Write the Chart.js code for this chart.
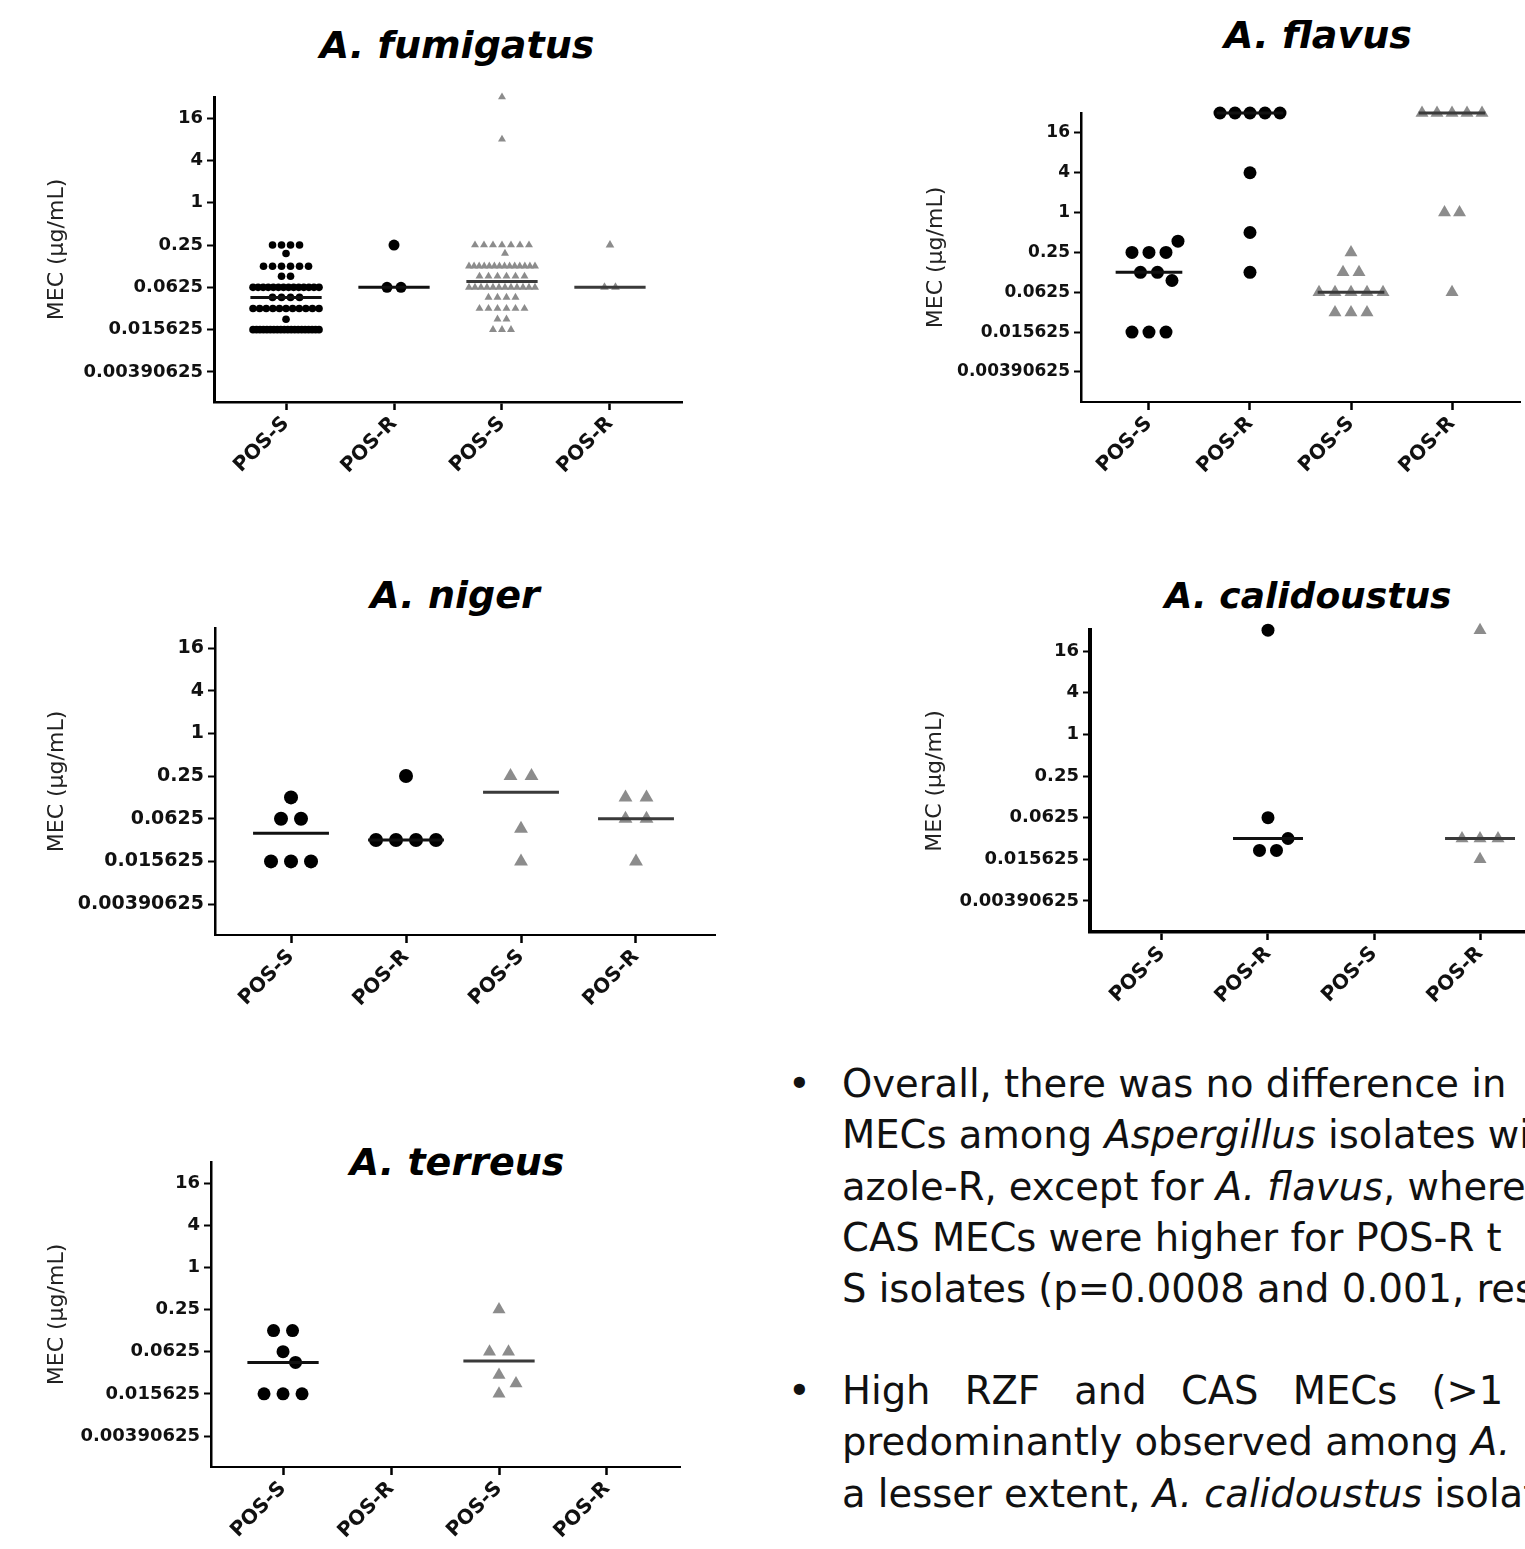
<!DOCTYPE html>
<html><head><meta charset="utf-8">
<script src="https://cdn.jsdelivr.net/npm/chart.js@4.4.1/dist/chart.umd.min.js"></script>
<style>
html,body{margin:0;padding:0;width:1525px;height:1549px;overflow:hidden;background:#fff;position:relative;}
canvas{position:absolute;}
.title{position:absolute;font-family:"DejaVu Sans";font-weight:bold;font-style:italic;transform:translate(-50%,-50%);white-space:nowrap;color:#000;}
.txt{position:absolute;left:842px;font-family:"DejaVu Sans";font-size:38.5px;line-height:51.3px;white-space:nowrap;color:#111;}
.bul{position:absolute;left:-54px;top:0;}
</style>
</head><body>
<script>
// ---------- DATA ----------
const categories = ['POS-S', 'POS-R', 'POS-S', 'POS-R'];
const yTickValues = [16, 4, 1, 0.25, 0.0625, 0.015625, 0.00390625];
const yTickLabels = ['16', '4', '1', '0.25', '0.0625', '0.015625', '0.00390625'];
const yAxisTitle = 'MEC (µg/mL)';
const panelTitles = ['A. fumigatus', 'A. flavus', 'A. niger', 'A. calidoustus', 'A. terreus'];

// A. fumigatus (black circles = RZF, grey triangles = CAS)
const fumigatusRzfPosS = [0.25,0.25,0.25,0.25, 0.19,
  0.125,0.125,0.125,0.125,0.125,0.125, 0.09,0.09,
  0.0625,0.0625,0.0625,0.0625,0.0625,0.0625,0.0625,0.0625,0.0625,0.0625,0.0625,0.0625,0.0625,0.0625,
  0.045,0.045,0.045,0.045,
  0.03125,0.03125,0.03125,0.03125,0.03125,0.03125,0.03125,0.03125,0.03125,0.03125,0.03125,
  0.022,
  0.015625,0.015625,0.015625,0.015625,0.015625,0.015625,0.015625,0.015625,0.015625,0.015625,
  0.015625,0.015625,0.015625,0.015625,0.015625,0.015625,0.015625,0.015625,0.015625,0.015625];
const fumigatusRzfPosR = [0.25, 0.0625, 0.0625];
const fumigatusCasPosS = [32, 8, 0.25,0.25,0.25,0.25,0.25,0.25,0.25, 0.19,
  0.125,0.125,0.125,0.125,0.125,0.125,0.125,0.125,0.125,0.125,0.125,0.125,0.125,0.125,
  0.09,0.09,0.09,0.09,0.09,0.09,
  0.0625,0.0625,0.0625,0.0625,0.0625,0.0625,0.0625,0.0625,0.0625,0.0625,0.0625,0.0625,
  0.045,0.045,0.045,0.045,
  0.03125,0.03125,0.03125,0.03125,0.03125,0.03125,
  0.022,0.022, 0.015625,0.015625,0.015625];
const fumigatusCasPosR = [0.25, 0.0625, 0.0625];
const fumigatusMedians = [0.045, 0.0625, 0.076, 0.0625];

// A. flavus
const flavusRzfPosS = [0.37, 0.25,0.25,0.25, 0.125,0.125, 0.094, 0.015625,0.015625,0.015625];
const flavusRzfPosR = [32,32,32,32,32, 4, 0.5, 0.125];
const flavusCasPosS = [0.25, 0.125,0.125, 0.0625,0.0625,0.0625,0.0625,0.0625, 0.031,0.031,0.031];
const flavusCasPosR = [32,32,32,32,32, 1,1, 0.0625];
const flavusMedians = [0.125, 32, 0.0625, 32];

// A. niger
const nigerRzfPosS = [0.125, 0.0625,0.0625, 0.015625,0.015625,0.015625];
const nigerRzfPosR = [0.25, 0.03125,0.03125,0.03125,0.03125];
const nigerCasPosS = [0.25,0.25, 0.045, 0.015625];
const nigerCasPosR = [0.125,0.125, 0.0625,0.0625, 0.015625];
const nigerMedians = [0.039, 0.03125, 0.148, 0.0625];

// A. calidoustus
const calidoustusRzfPosS = [];
const calidoustusRzfPosR = [32, 0.0625, 0.03125, 0.021, 0.021];
const calidoustusCasPosS = [];
const calidoustusCasPosR = [32, 0.03125,0.03125,0.03125, 0.015625];
const calidoustusMedians = [null, 0.03125, null, 0.03125];

// A. terreus
const terreusRzfPosS = [0.125,0.125, 0.0625, 0.044, 0.015625,0.015625,0.015625];
const terreusRzfPosR = [];
const terreusCasPosS = [0.25, 0.0625,0.0625, 0.029, 0.022, 0.015625];
const terreusCasPosR = [];
const terreusMedians = [0.044, null, 0.046, null];

// ---------- STYLE / LAYOUT ----------
const BLACK = '#000000', GREY = '#8c8c8c';

const panels = [
  { title: panelTitles[0], tx: 457, ty: 45, tsize: 38,
    area: [214, 97, 682, 402], xr: [-0.667, 3.667], ylog: [-9.42, 5.0], Wy: 170, tf: 18, bw: 2.5,
    maxRow: 66, sep: 0.95,
    groups: [
      { d: fumigatusRzfPosS, c: 0, m: fumigatusMedians[0], st: 'circle', col: BLACK, r: 3.8, sp: 9 },
      { d: fumigatusRzfPosR, c: 1, m: fumigatusMedians[1], st: 'circle', col: BLACK, r: 5.5, sp: 14 },
      { d: fumigatusCasPosS, c: 2, m: fumigatusMedians[2], st: 'triangle', col: GREY, r: 4.6, sp: 9 },
      { d: fumigatusCasPosR, c: 3, m: fumigatusMedians[3], st: 'triangle', col: GREY, r: 5, sp: 11 } ] },
  { title: panelTitles[1], tx: 1318, ty: 35, tsize: 38,
    area: [1081, 113, 1520, 402], xr: [-0.673, 3.673], ylog: [-9.51, 5.0], Wy: 158, tf: 17, bw: 2,
    maxRow: 100, sep: 1.25,
    groups: [
      { d: flavusRzfPosS, c: 0, m: flavusMedians[0], st: 'circle', col: BLACK, r: 6.5, sp: 17 },
      { d: flavusRzfPosR, c: 1, m: flavusMedians[1], st: 'circle', col: BLACK, r: 6.5, sp: 15 },
      { d: flavusCasPosS, c: 2, m: flavusMedians[2], st: 'triangle', col: GREY, r: 7.5, sp: 16 },
      { d: flavusCasPosR, c: 3, m: flavusMedians[3], st: 'triangle', col: GREY, r: 7.5, sp: 15 } ] },
  { title: panelTitles[2], tx: 455, ty: 595, tsize: 38,
    area: [215, 628, 715, 935], xr: [-0.661, 3.687], ylog: [-9.45, 4.94], Wy: 171, tf: 19, bw: 2,
    maxRow: 100, sep: 1.25,
    groups: [
      { d: nigerRzfPosS, c: 0, m: nigerMedians[0], st: 'circle', col: BLACK, r: 7, sp: 20 },
      { d: nigerRzfPosR, c: 1, m: nigerMedians[1], st: 'circle', col: BLACK, r: 7, sp: 20 },
      { d: nigerCasPosS, c: 2, m: nigerMedians[2], st: 'triangle', col: GREY, r: 8, sp: 21 },
      { d: nigerCasPosR, c: 3, m: nigerMedians[3], st: 'triangle', col: GREY, r: 8, sp: 21 } ] },
  { title: panelTitles[3], tx: 1308, ty: 595, tsize: 36,
    area: [1090, 630, 1552, 932], xr: [-0.679, 3.679], ylog: [-9.49, 5.01], Wy: 168, tf: 18, bw: 3.5,
    maxRow: 100, sep: 1.25,
    groups: [
      { d: calidoustusRzfPosS, c: 0, m: calidoustusMedians[0], st: 'circle', col: BLACK, r: 6.5, sp: 17 },
      { d: calidoustusRzfPosR, c: 1, m: calidoustusMedians[1], st: 'circle', col: BLACK, r: 6.5, sp: 17 },
      { d: calidoustusCasPosS, c: 2, m: calidoustusMedians[2], st: 'triangle', col: GREY, r: 7.5, sp: 18 },
      { d: calidoustusCasPosR, c: 3, m: calidoustusMedians[3], st: 'triangle', col: GREY, r: 7.5, sp: 18 } ] },
  { title: panelTitles[4], tx: 457, ty: 1162, tsize: 38,
    area: [211, 1162, 680, 1467], xr: [-0.667, 3.676], ylog: [-9.47, 5.0], Wy: 167, tf: 18, bw: 2,
    maxRow: 100, sep: 1.25,
    groups: [
      { d: terreusRzfPosS, c: 0, m: terreusMedians[0], st: 'circle', col: BLACK, r: 6.5, sp: 19 },
      { d: terreusRzfPosR, c: 1, m: terreusMedians[1], st: 'circle', col: BLACK, r: 6.5, sp: 19 },
      { d: terreusCasPosS, c: 2, m: terreusMedians[2], st: 'triangle', col: GREY, r: 7.5, sp: 19 },
      { d: terreusCasPosR, c: 3, m: terreusMedians[3], st: 'triangle', col: GREY, r: 7.5, sp: 19 } ] }
];

// beeswarm-like horizontal placement of equal values (layout only, values untouched)
function layoutGroup(g, pxPerCat, pxPerLog2, maxRow, sep) {
  const rows = [];
  [...g.d].sort((a, b) => b - a).forEach(v => {
    const r = rows.find(q => q.v === v);
    if (r) r.n++; else rows.push({ v, n: 1 });
  });
  const minDist = g.r * 2 * sep;
  const placed = [], out = [];
  const multi = rows.filter(r => r.n > 1), single = rows.filter(r => r.n === 1);
  multi.forEach(r => {
    const py = -Math.log2(r.v) * pxPerLog2;
    const s = Math.min(g.sp, maxRow / (r.n - 1));
    for (let i = 0; i < r.n; i++) {
      const px = (i - (r.n - 1) / 2) * s;
      placed.push({ px, py }); out.push({ x: g.c + px / pxPerCat, y: r.v });
    }
  });
  single.forEach(r => {
    const py = -Math.log2(r.v) * pxPerLog2;
    let px = 0;
    for (let k = 0; k < 400; k++) {
      const cand = k === 0 ? 0 : (k % 2 === 1 ? 1 : -1) * Math.ceil(k / 2) * 0.5;
      if (placed.every(p => Math.hypot(p.px - cand, p.py - py) >= minDist)) { px = cand; break; }
    }
    placed.push({ px, py }); out.push({ x: g.c + px / pxPerCat, y: r.v });
  });
  return out;
}

const PAD_TOP = 16, PAD_RIGHT = 12, HX = 100;
const FONT = 'DejaVu Sans';

panels.forEach(p => {
  const [x0, y0, x1, y1] = p.area;
  const t = document.createElement('div');
  t.className = 'title'; t.textContent = p.title;
  t.style.left = p.tx + 'px'; t.style.top = p.ty + 'px'; t.style.fontSize = p.tsize + 'px';
  document.body.appendChild(t);

  const cv = document.createElement('canvas');
  const W = p.Wy + (x1 - x0) + PAD_RIGHT, H = PAD_TOP + (y1 - y0) + HX;
  cv.width = W; cv.height = H;
  cv.style.left = (x0 - p.Wy) + 'px'; cv.style.top = (y0 - PAD_TOP) + 'px';
  cv.style.width = W + 'px'; cv.style.height = H + 'px';
  document.body.appendChild(cv);

  const pxPerCat = (x1 - x0) / (p.xr[1] - p.xr[0]);
  const pxPerLog2 = (y1 - y0) / (p.ylog[1] - p.ylog[0]);
  const datasets = [];
  p.groups.forEach(g => {
    if (g.d.length) {
      datasets.push({
        type: 'scatter', data: layoutGroup(g, pxPerCat, pxPerLog2, p.maxRow, p.sep),
        pointStyle: g.st, pointRadius: g.r, pointHoverRadius: g.r,
        pointBackgroundColor: g.col, pointBorderColor: g.col, pointBorderWidth: 0,
        clip: false, order: 2
      });
    }
    if (g.m !== null && g.m !== undefined) {
      datasets.push({
        type: 'line', data: [{ x: g.c - 0.33, y: g.m }, { x: g.c + 0.33, y: g.m }],
        borderColor: g.col === BLACK ? '#111111' : '#3a3a3a', borderWidth: 3,
        pointRadius: 0, showLine: true, fill: false, clip: false, order: 1
      });
    }
  });

  new Chart(cv, {
    type: 'scatter',
    data: { datasets },
    options: {
      responsive: false, animation: false, events: [],
      layout: { padding: { top: PAD_TOP, right: PAD_RIGHT, left: 0, bottom: 0 } },
      plugins: { legend: { display: false }, tooltip: { enabled: false }, title: { display: false } },
      scales: {
        x: {
          type: 'linear', min: p.xr[0], max: p.xr[1],
          afterBuildTicks: s => { s.ticks = categories.map((c, i) => ({ value: i })); },
          afterFit: s => { s.height = HX; s.paddingLeft = 0; s.paddingRight = 0; },
          ticks: {
            autoSkip: false, minRotation: 45, maxRotation: 45, padding: 2,
            font: { family: FONT, weight: 'bold', size: 20 }, color: '#111',
            callback: v => categories[v] !== undefined ? categories[v] : ''
          },
          grid: { display: true, drawOnChartArea: false, drawTicks: true, tickLength: 8, tickWidth: 2.5, tickColor: '#000' },
          border: { display: true, color: '#000', width: p.bw }
        },
        y: {
          type: 'logarithmic', min: Math.pow(2, p.ylog[0]), max: Math.pow(2, p.ylog[1]),
          afterBuildTicks: s => { s.ticks = yTickValues.map(v => ({ value: v })); },
          afterFit: s => { s.width = p.Wy; s.paddingTop = 0; s.paddingBottom = 0; },
          ticks: {
            autoSkip: false, padding: 4,
            font: { family: FONT, weight: 'bold', size: p.tf }, color: '#111',
            callback: (v, i) => yTickLabels[i]
          },
          title: { display: true, text: yAxisTitle, font: { family: FONT, size: 22 }, color: '#222', padding: { top: 0, bottom: 0 } },
          grid: { display: true, drawOnChartArea: false, drawTicks: true, tickLength: 7, tickWidth: 2, tickColor: '#000' },
          border: { display: true, color: '#000', width: p.bw + 0.5 }
        }
      }
    }
  });
});
</script>

<div class="txt" style="top:1058px;">
  <span class="bul">•</span>Overall, there was no difference in<br>
  MECs among <i>Aspergillus</i> isolates wi<br>
  azole-R, except for <i>A. flavus</i>, where<br>
  CAS MECs were higher for POS-R t<br>
  S isolates (p=0.0008 and 0.001, res
</div>
<div class="txt" style="top:1365px;">
  <span class="bul">•</span><span style="word-spacing:22px;">High RZF and CAS MECs (&gt;1</span><br>
  predominantly observed among <i>A.</i><br>
  a lesser extent, <i>A. calidoustus</i> isolat
</div>
</body></html>
